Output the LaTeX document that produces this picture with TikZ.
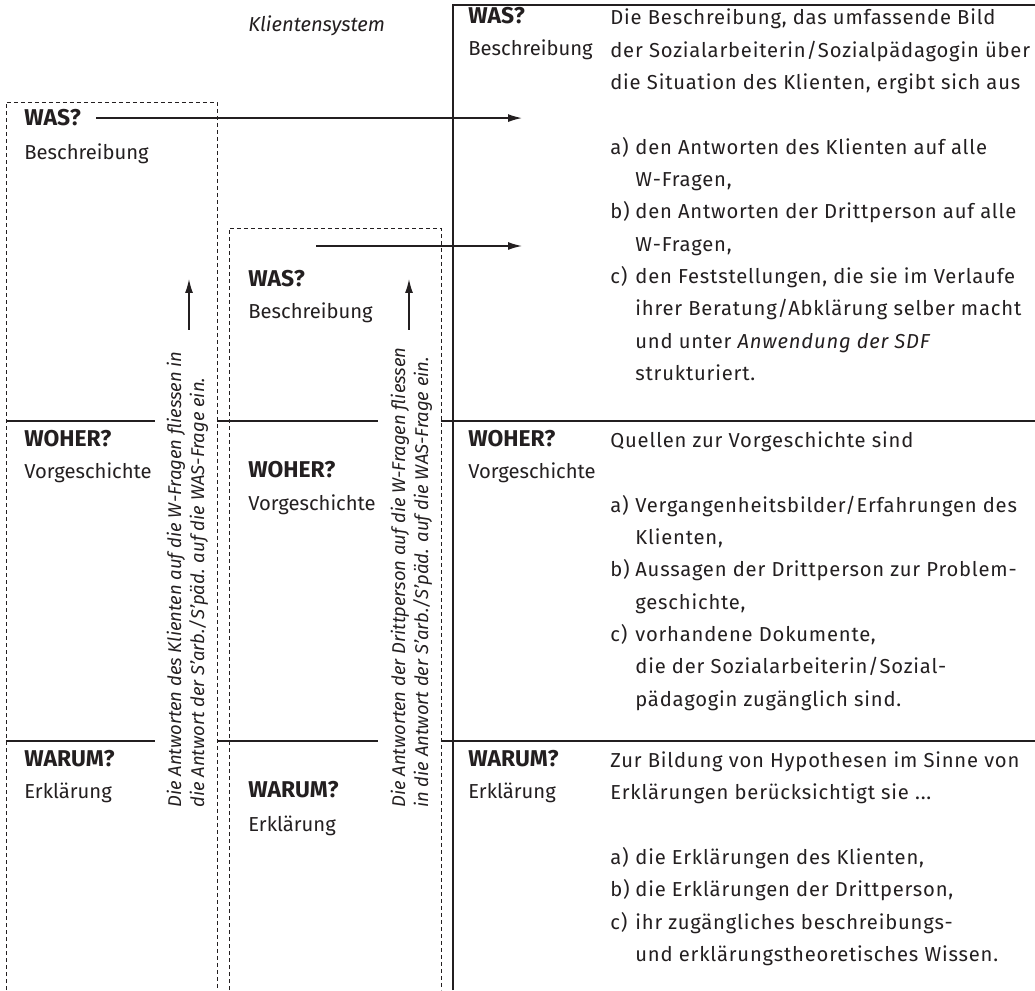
\documentclass[tikz,border=0pt]{standalone}
\usepackage{fontspec}
\setmainfont{Fira Sans}
\newfontfamily\weit{Fira Sans}[LetterSpace=4]
\usetikzlibrary{arrows.meta}

\definecolor{ink}{RGB}{35,31,32}

%% hanging labels a), b), c)
\newlength{\itemw}
\setlength{\itemw}{0.5cm}
\newcommand{\lab}[1]{\makebox[\itemw][l]{#1}}
\newcommand{\cont}{\hspace*{\itemw}}

\tikzset{
  frage/.style={anchor=base west, inner sep=0pt, text=ink, font=\fontsize{13}{15}\selectfont\bfseries},
  stich/.style={anchor=base west, inner sep=0pt, text=ink, font=\fontsize{11.5}{14}\selectfont},
  %% multi-line nodes sit on the baseline of their last line
  absatz/.style={anchor=base west, inner sep=0pt, align=left, text=ink, font=\fontsize{11.5}{18.4}\weit},
  quer/.style={anchor=base west, inner sep=0pt, align=left, rotate=90, text=ink, font=\fontsize{10.5}{13}\selectfont\itshape},
  trenn/.style={line width=0.8pt, ink},
  rahmen/.style={dash pattern=on 0.8mm off 0.6mm, line width=0.45pt, ink},
  pfeil/.style={-{Latex[length=2.8mm,width=1.6mm]}, line width=0.8pt, ink},
}

\begin{document}
\begin{tikzpicture}
  \useasboundingbox (0,0) rectangle (20.7,19.8);

  %% Frame of the description column
  \draw[trenn] (9.06,0) |- (20.7,19.7);

  %% Dashed columns (client / third person)
  \draw[rahmen] (0.12,0) |- (4.34,17.76) -- (4.34,0);
  \draw[rahmen] (4.58,0) |- (8.82,15.24) -- (8.82,0);

  %% Section rules
  \foreach \y in {11.38,4.98} {
    \draw[trenn] (0.12,\y) -- (3.1,\y);
    \draw[trenn] (4.34,\y) -- (7.56,\y);
    \draw[trenn] (8.82,\y) -- (20.7,\y);
  }

  %% Column title
  \node[anchor=base west, inner sep=0pt, text=ink, font=\fontsize{11.5}{14}\selectfont\itshape]
    (titel) at (4.96,19.16) {Klientensystem};

  %% Left column
  \node[frage] (wasL)   at (0.48,17.28) {WAS?};
  \node[stich] (beschL) at (0.48,16.60) {Beschreibung};
  \node[frage] (woherL) at (0.48,10.86) {WOHER?};
  \node[stich] (vorgL)  at (0.48,10.22) {Vorgeschichte};
  \node[frage] (warumL) at (0.48,4.46)  {WARUM?};
  \node[stich] (erklL)  at (0.48,3.82)  {Erklärung};

  %% Middle column
  \node[frage] (wasM)   at (4.96,14.06) {WAS?};
  \node[stich] (beschM) at (4.96,13.42) {Beschreibung};
  \node[frage] (woherM) at (4.96,10.24) {WOHER?};
  \node[stich] (vorgM)  at (4.96,9.58)  {Vorgeschichte};
  \node[frage] (warumM) at (4.96,3.84)  {WARUM?};
  \node[stich] (erklM)  at (4.96,3.18)  {Erklärung};

  %% Right column
  \node[frage] (wasR)   at (9.36,19.32) {WAS?};
  \node[stich] (beschR) at (9.36,18.68) {Beschreibung};
  \node[frage] (woherR) at (9.36,10.86) {WOHER?};
  \node[stich] (vorgR)  at (9.36,10.22) {Vorgeschichte};
  \node[frage] (warumR) at (9.36,4.46)  {WARUM?};
  \node[stich] (erklR)  at (9.36,3.82)  {Erklärung};

  \node[absatz] (textWas) at (12.2,12.192) {%
    Die Beschreibung, das umfassende Bild\\
    der Sozialarbeiterin/Sozialpädagogin über\\
    die Situation des Klienten, ergibt sich aus\\
    \mbox{}\\
    \lab{a)}den Antworten des Klienten auf alle\\
    \cont W-Fragen,\\
    \lab{b)}den Antworten der Drittperson auf alle\\
    \cont W-Fragen,\\
    \lab{c)}den Feststellungen, die sie im Verlaufe\\
    \cont ihrer Beratung/Abklärung selber macht\\
    \cont und unter \textit{Anwendung der SDF}\\
    \cont strukturiert.};

  \node[absatz] (textWoher) at (12.2,5.676) {%
    Quellen zur Vorgeschichte sind\\
    \mbox{}\\
    \lab{a)}Vergangenheitsbilder/Erfahrungen des\\
    \cont Klienten,\\
    \lab{b)}Aussagen der Drittperson zur Problem-\\
    \cont geschichte,\\
    \lab{c)}vorhandene Dokumente,\\
    \cont die der Sozialarbeiterin/Sozial-\\
    \cont pädagogin zugänglich sind.};

  \node[absatz] (textWarum) at (12.2,0.572) {%
    Zur Bildung von Hypothesen im Sinne von\\
    Erklärungen berücksichtigt sie ...\\
    \mbox{}\\
    \lab{a)}die Erklärungen des Klienten,\\
    \lab{b)}die Erklärungen der Drittperson,\\
    \lab{c)}ihr zugängliches beschreibungs-\\
    \cont und erklärungstheoretisches Wissen.};

  %% Rotated notes
  \node[quer] (notizL) at (4.08,3.64) {%
    Die Antworten des Klienten auf die W-Fragen fliessen in\\
    die Antwort der S’arb./S’päd. auf die WAS-Frage ein.};
  \node[quer] (notizM) at (8.56,3.64) {%
    Die Antworten der Drittperson auf die W-Fragen fliessen\\
    in die Antwort der S’arb./S’päd. auf die WAS-Frage ein.};

  %% Arrows
  \coordinate (ziel1) at (10.44,17.44);
  \coordinate (start2) at (6.32,14.88);
  \coordinate (ziel2) at (10.44,14.88);
  \coordinate (fussL) at (3.78,13.2);
  \coordinate (spitzeL) at (3.78,14.22);
  \coordinate (fussM) at (8.18,13.2);
  \coordinate (spitzeM) at (8.18,14.22);

  \draw[pfeil] ([xshift=3mm]wasL.east) -- (wasL.east -| ziel1);
  \draw[pfeil] (start2) -- (ziel2);
  \draw[pfeil] (fussL) -- (spitzeL);
  \draw[pfeil] (fussM) -- (spitzeM);
\end{tikzpicture}
\end{document}
